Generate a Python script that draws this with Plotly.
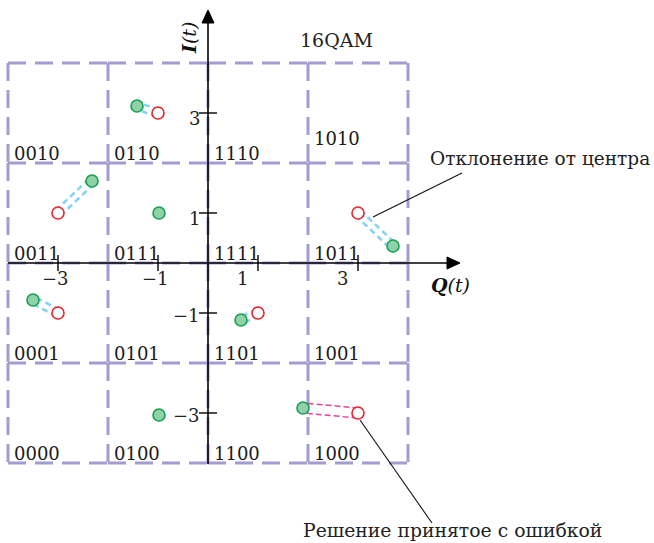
import plotly.graph_objects as go

# ---- data ----
bit_labels = [
    ["0010", "0110", "1110", "1010"],
    ["0011", "0111", "1111", "1011"],
    ["0001", "0101", "1101", "1001"],
    ["0000", "0100", "1100", "1000"],
]
ideal_q = [-1, -3, -3, 3, 1, 3]
ideal_i = [3, 1, -1, 1, -1, -3]
recv_q = [-1.42, -2.32, -3.5, 3.7, 0.66, 1.9]
recv_i = [3.14, 1.64, -0.74, 0.34, -1.14, -2.9]
is_error = [False, False, False, False, False, True]
exact_q = [-0.98, -0.98]
exact_i = [1.0, -3.04]
tick_vals = [-3, -1, 1, 3]
tick_text = ["\u22123", "\u22121", "1", "3"]
grid_edges = [-4, -2, 0, 2, 4]
title_text = "16QAM"
note_dev = "Отклонение от центра"
note_err = "Решение принятое с ошибкой"

FONT = "DejaVu Serif"
GRID_C = "#a29cd2"
BLUE_C = "#86d4f2"
PINK_C = "#e8449a"

fig = go.Figure()
shapes = []
ann = []

# grid: per-cell edges
for yv in grid_edges:
    for a, b in zip(grid_edges[:-1], grid_edges[1:]):
        shapes.append(dict(type="line", x0=a, x1=b, y0=yv, y1=yv, layer="below",
                           line=dict(color=GRID_C, width=3, dash="18px,9px")))
for xv in grid_edges:
    for a, b in zip(grid_edges[:-1], grid_edges[1:]):
        shapes.append(dict(type="line", x0=xv, x1=xv, y0=b, y1=a, layer="below",
                           line=dict(color=GRID_C, width=3, dash="18px,9px")))

# axes
shapes.append(dict(type="line", x0=-4, x1=4.85, y0=0, y1=0, line=dict(color="black", width=1.6)))
shapes.append(dict(type="line", x0=0, x1=0, y0=-4.02, y1=4.85, line=dict(color="black", width=1.6)))
shapes.append(dict(type="path", path="M 5.04 0 L 4.78 0.12 L 4.78 -0.12 Z",
                   fillcolor="black", line=dict(color="black", width=1)))
shapes.append(dict(type="path", path="M 0 5.06 L 0.12 4.8 L -0.12 4.8 Z",
                   fillcolor="black", line=dict(color="black", width=1)))
for t, lab in zip(tick_vals, tick_text):
    shapes.append(dict(type="line", x0=t, x1=t, y0=-0.16, y1=0.16, line=dict(color="black", width=1.4)))
    shapes.append(dict(type="line", x0=-0.18, x1=0.18, y0=t, y1=t, line=dict(color="black", width=1.4)))
    dx = -0.32 if t > 0 else -0.06
    ann.append(dict(x=t + dx, y=-0.3, text=lab, showarrow=False, xanchor="center", yanchor="middle",
                    font=dict(family=FONT, size=18, color="#222")))
    ann.append(dict(x=-0.12, y=t - (0.1 if t > 0 else 0.05), text=lab, showarrow=False, xanchor="right",
                    yanchor="middle", font=dict(family=FONT, size=18, color="#222")))

# bit labels
for r, row in enumerate(bit_labels):
    for c, lab in enumerate(row):
        x0 = grid_edges[c]
        ybot = grid_edges[len(grid_edges) - 2 - r]
        yoff = 0.5 if lab == "1010" else 0.2
        ann.append(dict(x=x0 + 0.08, y=ybot + yoff, text=lab, showarrow=False, xanchor="left",
                        yanchor="middle", font=dict(family=FONT, size=18, color="#1a1a1a")))

# connectors (double dashed lines)
for q0, i0, q1, i1, err in zip(ideal_q, ideal_i, recv_q, recv_i, is_error):
    dq, di = q1 - q0, i1 - i0
    L = (dq * dq + di * di) ** 0.5
    off = 0.1 if err else 0.07
    nq, ni = -di / L * off, dq / L * off
    for s in (1, -1):
        fig.add_trace(go.Scatter(
            x=[q0 + s * nq, q1 + s * nq], y=[i0 + s * ni, i1 + s * ni], mode="lines",
            line=dict(color=PINK_C if err else BLUE_C, width=1.5 if err else 2.6,
                      dash="6px,3px" if err else "6px,4px"),
            hoverinfo="skip", showlegend=False))

# received points
fig.add_trace(go.Scatter(x=recv_q + exact_q, y=recv_i + exact_i, mode="markers",
                         marker=dict(size=12, color="#8fd1a8", line=dict(color="#17a052", width=1.6)),
                         showlegend=False))
# ideal points
fig.add_trace(go.Scatter(x=ideal_q, y=ideal_i, mode="markers",
                         marker=dict(size=12, color="white", line=dict(color="#e8242c", width=1.6)),
                         showlegend=False))

# axis titles
ann.append(dict(x=4.84, y=-0.44, text="<b><i>Q</i></b><i>(t)</i>", showarrow=False,
                font=dict(family=FONT, size=19, color="#111")))
ann.append(dict(x=-0.38, y=4.5, text="<b><i>I</i></b><i>(t)</i>", showarrow=False, textangle=-90,
                font=dict(family=FONT, size=19, color="#111")))
ann.append(dict(x=2.56, y=4.46, text=title_text, showarrow=False,
                font=dict(family=FONT, size=19, color="#222")))

# callouts
shapes.append(dict(type="line", x0=3.3, y0=0.92, x1=5.08, y1=1.8, line=dict(color="#111", width=1.1)))
shapes.append(dict(type="line", x0=3.04, y0=-3.14, x1=4.48, y1=-5.2, line=dict(color="#111", width=1.1)))
ann.append(dict(x=4.4, y=2.1, text=note_dev, showarrow=False, xanchor="left",
                font=dict(family=FONT, size=18.5, color="#222")))
ann.append(dict(x=4.88, y=-5.34, text=note_err, showarrow=False, xanchor="center",
                font=dict(family=FONT, size=18.8, color="#222")))

fig.update_layout(
    width=654, height=543, autosize=False,
    margin=dict(l=0, r=0, t=0, b=0),
    paper_bgcolor="white", plot_bgcolor="white",
    xaxis=dict(range=[-4.16, 8.92], visible=False, fixedrange=True),
    yaxis=dict(range=[-5.6, 5.26], visible=False, fixedrange=True),
    shapes=shapes, annotations=ann, showlegend=False,
)
fig.write_html("out.html")
